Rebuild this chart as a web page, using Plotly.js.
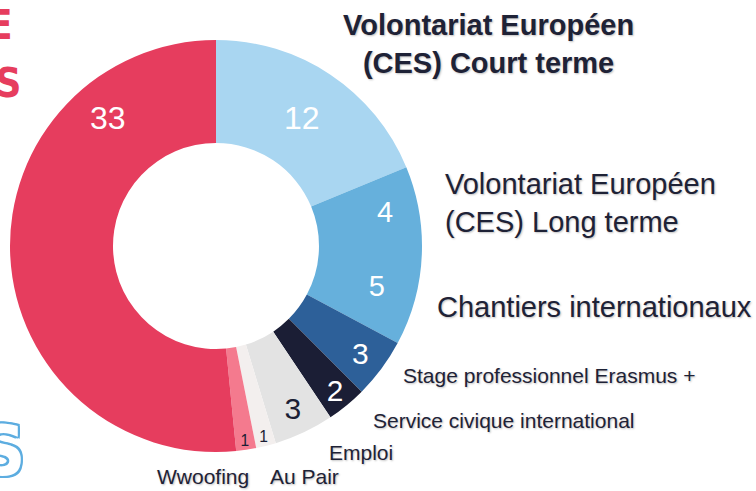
<!DOCTYPE html>
<html>
<head>
<meta charset="utf-8">
<script src="https://cdn.plot.ly/plotly-3.0.1.min.js"></script>
<style>html,body{margin:0;padding:0;background:#fff;}#chart{width:756px;height:491px;}</style>
</head>
<body>
<div id="chart"></div>
<script>
// Data
const categories = [
  "Volontariat Européen (CES) Court terme",
  "Volontariat Européen (CES) Long terme",
  "Chantiers internationaux",
  "Stage professionnel Erasmus +",
  "Service civique international",
  "Emploi",
  "Au Pair",
  "Wwoofing",
  "Autres"
];
const values = [12, 4, 5, 3, 2, 3, 1, 1, 33];
const sliceColors = ["#A9D6F1", "#66B0DC", "#66B0DC", "#2D6099", "#1B1E35", "#E3E3E3", "#F3EFEE", "#F47A8E", "#E63D5E"];
const textColors = ["#FFFFFF", "#FFFFFF", "#FFFFFF", "#FFFFFF", "#FFFFFF", "#1B1E35", "#1B1E35", "#1B1E35", "#FFFFFF"];
const textSizes = [32, 29, 29, 30, 30, 30, 20, 20, 32];
// Outside label texts (display form)
const labelTexts = [
  "<b>Volontariat Européen<br>(CES) Court terme</b>",
  "Volontariat Européen<br>(CES) Long terme",
  "Chantiers internationaux",
  "Stage professionnel Erasmus +",
  "Service civique international",
  "Emploi",
  "Au Pair",
  "Wwoofing"
];

const W = 756, H = 491;
const px = x => x / W;
const py = y => 1 - y / H;

// The big slice's value is shown through an annotation (its text sits higher than the slice centre)
const bigIdx = values.length - 1;
const sliceText = values.map((v, i) => i === bigIdx ? "" : String(v));

const trace = {
  type: "pie",
  labels: categories,
  values: values,
  text: sliceText,
  textinfo: "text",
  textposition: "inside",
  insidetextorientation: "horizontal",
  sort: false,
  direction: "clockwise",
  rotation: 0,
  hole: 0.5,
  marker: { colors: sliceColors, line: { width: 0 } },
  insidetextfont: { family: "Liberation Sans, Arial, sans-serif", color: textColors, size: textSizes },
  showlegend: false,
  hoverinfo: "label+value",
  domain: { x: [px(10), px(422)], y: [py(452), py(40)] }
};

const shadow = "1px 1px 2px rgba(0,0,0,0.25)";
const lblFont = s => ({ family: "Liberation Sans, Arial, sans-serif", size: s, color: "#1E2236", shadow: shadow });

const annotations = [
  { text: labelTexts[0], x: px(488), y: py(44), xanchor: "center", yanchor: "middle", align: "center", font: lblFont(29) },
  { text: labelTexts[1], x: px(443), y: py(203), xanchor: "left", yanchor: "middle", align: "left", font: lblFont(29) },
  { text: labelTexts[2], x: px(435), y: py(307), xanchor: "left", yanchor: "middle", align: "left", font: lblFont(29) },
  { text: labelTexts[3], x: px(401), y: py(375), xanchor: "left", yanchor: "middle", align: "left", font: lblFont(21) },
  { text: labelTexts[4], x: px(371), y: py(420), xanchor: "left", yanchor: "middle", align: "left", font: lblFont(21) },
  { text: labelTexts[5], x: px(327), y: py(452), xanchor: "left", yanchor: "middle", align: "left", font: lblFont(21) },
  { text: labelTexts[6], x: px(268), y: py(476), xanchor: "left", yanchor: "middle", align: "left", font: lblFont(21) },
  { text: labelTexts[7], x: px(155), y: py(476), xanchor: "left", yanchor: "middle", align: "left", font: lblFont(21) },
  // value of the big slice
  { text: String(values[bigIdx]), x: px(108), y: py(118), xanchor: "center", yanchor: "middle",
    font: { family: "Liberation Sans, Arial, sans-serif", size: 32, color: "#FFFFFF" } },
  // decorative fragments of the slide background on the left edge
  { text: "<b>E</b>", x: px(15), y: py(25), xanchor: "right", yanchor: "middle",
    font: { family: "Liberation Sans Narrow, DejaVu Sans Condensed, sans-serif", size: 40, color: "#E63D5E" } },
  { text: "<b>ES</b>", x: px(24), y: py(83), xanchor: "right", yanchor: "middle",
    font: { family: "Liberation Sans Narrow, DejaVu Sans Condensed, sans-serif", size: 40, color: "#E63D5E" } },
  { text: "<b>S</b>", x: px(27), y: py(451), xanchor: "right", yanchor: "middle",
    font: { family: "Liberation Sans Narrow, DejaVu Sans Condensed, sans-serif", size: 70, color: "#FFFFFF",
            shadow: "-2px 0 0 #5DADE0, 2px 0 0 #5DADE0, 0 -2px 0 #5DADE0, 0 2px 0 #5DADE0, 2px 2px 0 #5DADE0, -2px -2px 0 #5DADE0, 2px -2px 0 #5DADE0, -2px 2px 0 #5DADE0" } }
];
annotations.forEach(a => { a.xref = "paper"; a.yref = "paper"; a.showarrow = false; });

const layout = {
  width: W, height: H,
  margin: { l: 0, r: 0, t: 0, b: 0 },
  paper_bgcolor: "#FFFFFF",
  plot_bgcolor: "#FFFFFF",
  showlegend: false,
  annotations: annotations
};

Plotly.newPlot("chart", [trace], layout, { displayModeBar: false, staticPlot: true });
</script>
</body>
</html>
